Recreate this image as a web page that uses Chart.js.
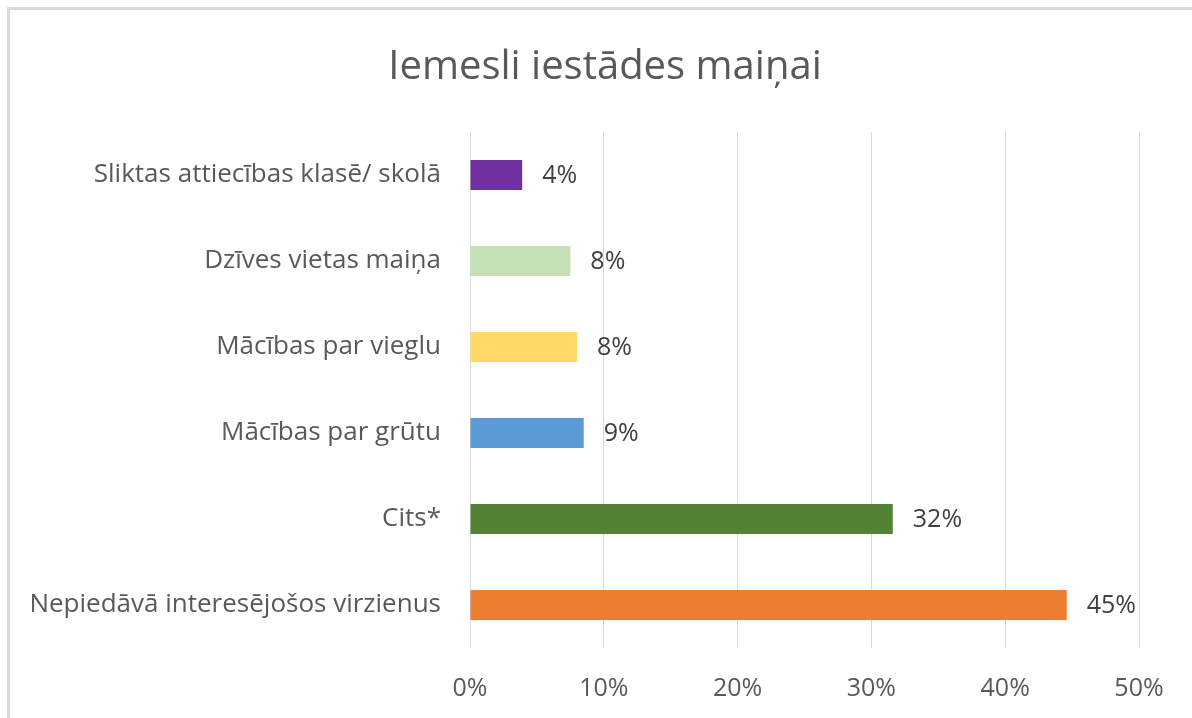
<!DOCTYPE html>
<html>
<head>
<meta charset="utf-8">
<script src="https://cdn.jsdelivr.net/npm/chart.js@4/dist/chart.umd.min.js"></script>
<style>
  html, body { margin: 0; padding: 0; background: #fff; }
  #wrap { position: relative; width: 1192px; height: 718px; overflow: hidden; }
  #frame { position: absolute; left: 7px; top: 7px; right: -10px; bottom: -10px;
           border-top: 3px solid #d9d9d9; border-left: 3px solid #d9d9d9; pointer-events: none; }
  canvas { position: absolute; left: 0; top: 0; }
</style>
</head>
<body>
<div id="wrap">
  <canvas id="myChart" width="1192" height="718"></canvas>
  <div id="frame"></div>
</div>
<script>
const categories = [
  "Sliktas attiecības klasē/ skolā",
  "Dzīves vietas maiņa",
  "Mācības par vieglu",
  "Mācības par grūtu",
  "Cits*",
  "Nepiedāvā interesējošos virzienus",
];
const values = [3.9, 7.5, 8.0, 8.5, 31.6, 44.6];
const valueLabels = ["4%", "8%", "8%", "9%", "32%", "45%"];
const barColors = ["#7030a0", "#c5e0b4", "#ffd966", "#5b9bd5", "#548235", "#ed7d31"];
const xTicks = [0, 10, 20, 30, 40, 50];

const FONT = "'Open Sans', 'Noto Sans', sans-serif";

// draws the value text to the right of each bar
const barValueLabels = {
  id: "barValueLabels",
  afterDatasetsDraw(chart) {
    const ctx = chart.ctx;
    const meta = chart.getDatasetMeta(0);
    ctx.save();
    ctx.font = "25px " + FONT;
    ctx.fillStyle = "#404040";
    ctx.textAlign = "left";
    ctx.textBaseline = "middle";
    meta.data.forEach((bar, i) => {
      ctx.fillText(valueLabels[i], bar.x + 20, bar.y + 1);
    });
    ctx.restore();
  },
};

// the title in the original is centred a bit right of the canvas middle
const shiftTitle = {
  id: "shiftTitle",
  afterLayout(chart) {
    if (chart.titleBlock) chart.titleBlock.left = 71;
  },
};

new Chart(document.getElementById("myChart"), {
  type: "bar",
  data: {
    labels: categories,
    datasets: [
      {
        data: values,
        backgroundColor: barColors,
        barPercentage: 0.35,
        categoryPercentage: 1,
      },
    ],
  },
  options: {
    indexAxis: "y",
    responsive: false,
    animation: false,
    layout: { padding: { left: 0, right: 53, top: 0, bottom: 0 } },
    plugins: {
      legend: { display: false },
      tooltip: { enabled: false },
      title: {
        display: true,
        text: "Iemesli iestādes maiņai",
        color: "#595959",
        font: { family: FONT, size: 40, weight: "normal", lineHeight: 1.2 },
        padding: { top: 44, bottom: 40 },
      },
    },
    scales: {
      x: {
        min: 0,
        max: 50,
        afterBuildTicks: (axis) => {
          axis.ticks = xTicks.map((v) => ({ value: v }));
        },
        afterFit: (axis) => {
          axis.height = 70;
        },
        grid: { color: "#d9d9d9", lineWidth: 1, drawTicks: false },
        border: { display: false },
        ticks: {
          color: "#595959",
          padding: 26,
          font: { family: FONT, size: 25 },
          callback: (v) => v + "%",
        },
      },
      y: {
        afterFit: (axis) => {
          axis.width = 470;
        },
        grid: { display: false, drawTicks: false },
        border: { display: false },
        ticks: {
          color: "#595959",
          padding: 29,
          font: { family: FONT, size: 26 },
        },
      },
    },
  },
  plugins: [barValueLabels, shiftTitle],
});
</script>
</body>
</html>
